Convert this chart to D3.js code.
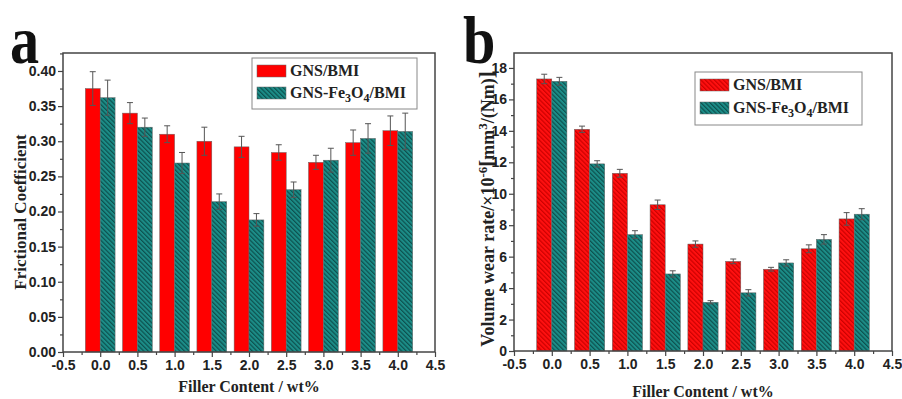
<!DOCTYPE html>
<html>
<head>
<meta charset="utf-8">
<script src="https://cdn.jsdelivr.net/npm/d3@7"></script>
<style>
  body { margin: 0; background: #fff; }
  svg { display: block; }
</style>
</head>
<body>
<div id="chart"></div>
<script>
// data
const fillerContent = [0, 0.5, 1.0, 1.5, 2.0, 2.5, 3.0, 3.5, 4.0];
const xTicks = [-0.5, 0, 0.5, 1.0, 1.5, 2.0, 2.5, 3.0, 3.5, 4.0, 4.5];

const frictionGNS = [0.375, 0.340, 0.310, 0.300, 0.292, 0.284, 0.270, 0.298, 0.315];
const frictionGNSErr = [0.024, 0.015, 0.012, 0.020, 0.015, 0.011, 0.010, 0.018, 0.021];
const frictionFe = [0.362, 0.320, 0.269, 0.214, 0.188, 0.231, 0.273, 0.304, 0.314];
const frictionFeErr = [0.025, 0.013, 0.015, 0.011, 0.009, 0.011, 0.017, 0.021, 0.026];
const frictionTicks = [0, 0.05, 0.10, 0.15, 0.20, 0.25, 0.30, 0.35, 0.40];

const wearGNS = [17.3, 14.1, 11.3, 9.3, 6.8, 5.7, 5.2, 6.5, 8.4];
const wearGNSErr = [0.3, 0.2, 0.25, 0.3, 0.2, 0.15, 0.12, 0.25, 0.4];
const wearFe = [17.15, 11.9, 7.4, 4.9, 3.1, 3.7, 5.6, 7.1, 8.7];
const wearFeErr = [0.25, 0.2, 0.25, 0.2, 0.1, 0.2, 0.2, 0.3, 0.35];
const wearTicks = [0, 2, 4, 6, 8, 10, 12, 14, 16, 18];

const width = 902;
const height = 399;
const serif = '"Liberation Serif", "Times New Roman", serif';

const svg = d3.select('#chart')
    .append('svg')
    .attr('width', width)
    .attr('height', height);

// hatch patterns
const defs = svg.append('defs');
function hatch(id, base, stripe) {
    const p = defs.append('pattern')
        .attr('id', id)
        .attr('patternUnits', 'userSpaceOnUse')
        .attr('width', 3.2)
        .attr('height', 3.2)
        .attr('patternTransform', 'rotate(-45)');
    p.append('rect').attr('width', 3.2).attr('height', 3.2).attr('fill', base);
    p.append('line')
        .attr('x1', 0.6).attr('y1', 0).attr('x2', 0.6).attr('y2', 3.2)
        .attr('stroke', stripe).attr('stroke-width', 1.1);
}
hatch('hatchRed', '#ff1010', '#c80000');
hatch('hatchTeal', '#1c8d88', '#0b4c4a');

function renderPanel(o) {
    const g = svg.append('g');
    const x = d3.scaleLinear().domain([-0.5, 4.5]).range([o.left, o.right]);
    const y = d3.scaleLinear().domain([0, o.yMax]).range([o.bottom, o.top]);
    const bw = x(0.2) - x(0);

    const series = [
        { vals: o.s1, errs: o.s1Err, fill: o.fill1, off: -0.2 },
        { vals: o.s2, errs: o.s2Err, fill: o.fill2, off: 0 }
    ];

    series.forEach(s => {
        g.append('g')
            .selectAll('rect')
            .data(fillerContent)
            .join('rect')
            .attr('x', d => x(d + s.off))
            .attr('y', (d, i) => y(s.vals[i]))
            .attr('width', bw)
            .attr('height', (d, i) => y(0) - y(s.vals[i]))
            .attr('fill', s.fill)
            .attr('stroke', '#666')
            .attr('stroke-width', 0.5);
    });

    // error bars
    series.forEach(s => {
        const eg = g.append('g')
            .attr('stroke', '#555')
            .attr('stroke-width', 1);
        fillerContent.forEach((d, i) => {
            const cx = x(d + s.off) + bw / 2;
            const y1 = y(s.vals[i] + s.errs[i]);
            const y2 = y(s.vals[i] - s.errs[i]);
            eg.append('line').attr('x1', cx).attr('x2', cx).attr('y1', y1).attr('y2', y2);
            eg.append('line').attr('x1', cx - 3).attr('x2', cx + 3).attr('y1', y1).attr('y2', y1);
            eg.append('line').attr('x1', cx - 3).attr('x2', cx + 3).attr('y1', y2).attr('y2', y2);
        });
    });

    // axes
    const yMinor = o.yTicks.slice(0, -1).map((t, i) => (t + o.yTicks[i + 1]) / 2)
        .concat([o.yTicks[o.yTicks.length - 1] + (o.yTicks[1] - o.yTicks[0]) / 2]);
    const xMinor = xTicks.slice(0, -1).map((t, i) => (t + xTicks[i + 1]) / 2);

    g.append('g')
        .attr('transform', `translate(${o.left},0)`)
        .call(d3.axisLeft(y).tickValues(o.yTicks).tickFormat(o.yFormat).tickSize(5).tickSizeOuter(0).tickPadding(2));
    g.append('g')
        .attr('transform', `translate(${o.left},0)`)
        .call(d3.axisLeft(y).tickValues(yMinor.filter(v => v < o.yMax)).tickFormat('').tickSize(3).tickSizeOuter(0));
    const xAxis = g.append('g')
        .attr('transform', `translate(0,${o.bottom})`)
        .call(d3.axisBottom(x).tickValues(xTicks).tickFormat(d3.format('.1f')).tickSize(5).tickSizeOuter(0).tickPadding(3));
    g.append('g')
        .attr('transform', `translate(0,${o.bottom})`)
        .call(d3.axisBottom(x).tickValues(xMinor).tickFormat('').tickSize(3).tickSizeOuter(0));

    g.selectAll('.domain').remove();
    g.selectAll('.tick line').attr('stroke', '#444').attr('stroke-width', 1.2);
    g.selectAll('.tick text')
        .attr('fill', '#222')
        .style('font-family', '"Liberation Sans", Arial, sans-serif')
        .style('font-weight', 'bold')
        .style('font-size', '14px');
    xAxis.selectAll('.tick text').text(d => d < 0 ? '-' + d3.format('.1f')(-d) : d3.format('.1f')(d));

    // frame
    g.append('rect')
        .attr('x', o.left).attr('y', o.top)
        .attr('width', o.right - o.left).attr('height', o.bottom - o.top)
        .attr('fill', 'none')
        .attr('stroke', '#444')
        .attr('stroke-width', 1.5);

    // x title
    g.append('text')
        .attr('x', (o.left + o.right) / 2)
        .attr('y', o.xTitleY)
        .attr('text-anchor', 'middle')
        .style('font-family', serif)
        .style('font-weight', 'bold')
        .style('font-size', '16px')
        .attr('fill', '#222')
        .text('Filler Content / wt%');

    // panel letter
    g.append('text')
        .attr('transform', `translate(${o.letterX},${o.letterY}) scale(1.12,1.32)`)
        .style('font-family', serif)
        .style('font-weight', 'bold')
        .style('font-size', '52px')
        .attr('fill', '#111')
        .text(o.letter);

    // legend
    const lg = g.append('g');
    lg.append('rect')
        .attr('x', o.leg.x).attr('y', o.leg.y)
        .attr('width', o.leg.w).attr('height', o.leg.h)
        .attr('fill', '#fff').attr('stroke', '#888').attr('stroke-width', 1);
    [o.fill1, o.fill2].forEach((f, i) => {
        const ry = o.leg.y + o.leg.row0 + i * o.leg.rowGap;
        lg.append('rect')
            .attr('x', o.leg.x + 5).attr('y', ry)
            .attr('width', 29).attr('height', 12)
            .attr('fill', f).attr('stroke', '#666').attr('stroke-width', 0.5);
        const t = lg.append('text')
            .attr('x', o.leg.x + 38).attr('y', ry + 11)
            .style('font-family', serif)
            .style('font-weight', 'bold')
            .style('font-size', '16px')
            .attr('fill', '#222');
        if (i === 0) {
            t.text('GNS/BMI');
        } else {
            t.append('tspan').text('GNS-Fe');
            t.append('tspan').attr('dy', 4).style('font-size', '12px').text('3');
            t.append('tspan').attr('dy', -4).text('O');
            t.append('tspan').attr('dy', 4).style('font-size', '12px').text('4');
            t.append('tspan').attr('dy', -4).text('/BMI');
        }
    });
    return g;
}

const ga = renderPanel({
    left: 63, right: 435, top: 53, bottom: 352,
    yMax: 0.4256, yTicks: frictionTicks, yFormat: d3.format('.2f'),
    s1: frictionGNS, s1Err: frictionGNSErr, s2: frictionFe, s2Err: frictionFeErr,
    fill1: '#ff0000', fill2: 'url(#hatchTeal)',
    xTitleY: 392, letter: 'a', letterX: 10, letterY: 63,
    leg: { x: 252, y: 58, w: 165, h: 51, row0: 7, rowGap: 22 }
});

const gb = renderPanel({
    left: 514, right: 892, top: 53, bottom: 351,
    yMax: 18.95, yTicks: wearTicks, yFormat: d3.format('d'),
    s1: wearGNS, s1Err: wearGNSErr, s2: wearFe, s2Err: wearFeErr,
    fill1: 'url(#hatchRed)', fill2: 'url(#hatchTeal)',
    xTitleY: 397, letter: 'b', letterX: 463, letterY: 63,
    leg: { x: 695, y: 72, w: 167, h: 53, row0: 7, rowGap: 23 }
});

// y titles
ga.append('text')
    .attr('transform', 'translate(26,212) rotate(-90)')
    .attr('text-anchor', 'middle')
    .style('font-family', serif)
    .style('font-weight', 'bold')
    .style('font-size', '17px')
    .attr('fill', '#222')
    .text('Frictional Coefficient');

const yb = gb.append('text')
    .attr('transform', 'translate(494,209) rotate(-90)')
    .attr('text-anchor', 'middle')
    .style('font-family', serif)
    .style('font-weight', 'bold')
    .style('font-size', '18px')
    .attr('fill', '#222');
yb.append('tspan').text('Volume wear rate/×10');
yb.append('tspan').attr('dy', -7).style('font-size', '13px').text('-6');
yb.append('tspan').attr('dy', 7).style('font-size', '21px').text('[');
yb.append('tspan').text('mm');
yb.append('tspan').attr('dy', -7).style('font-size', '13px').text('3');
yb.append('tspan').attr('dy', 7).text('/(Nm)');
yb.append('tspan').style('font-size', '21px').text(']');
</script>
</body>
</html>
